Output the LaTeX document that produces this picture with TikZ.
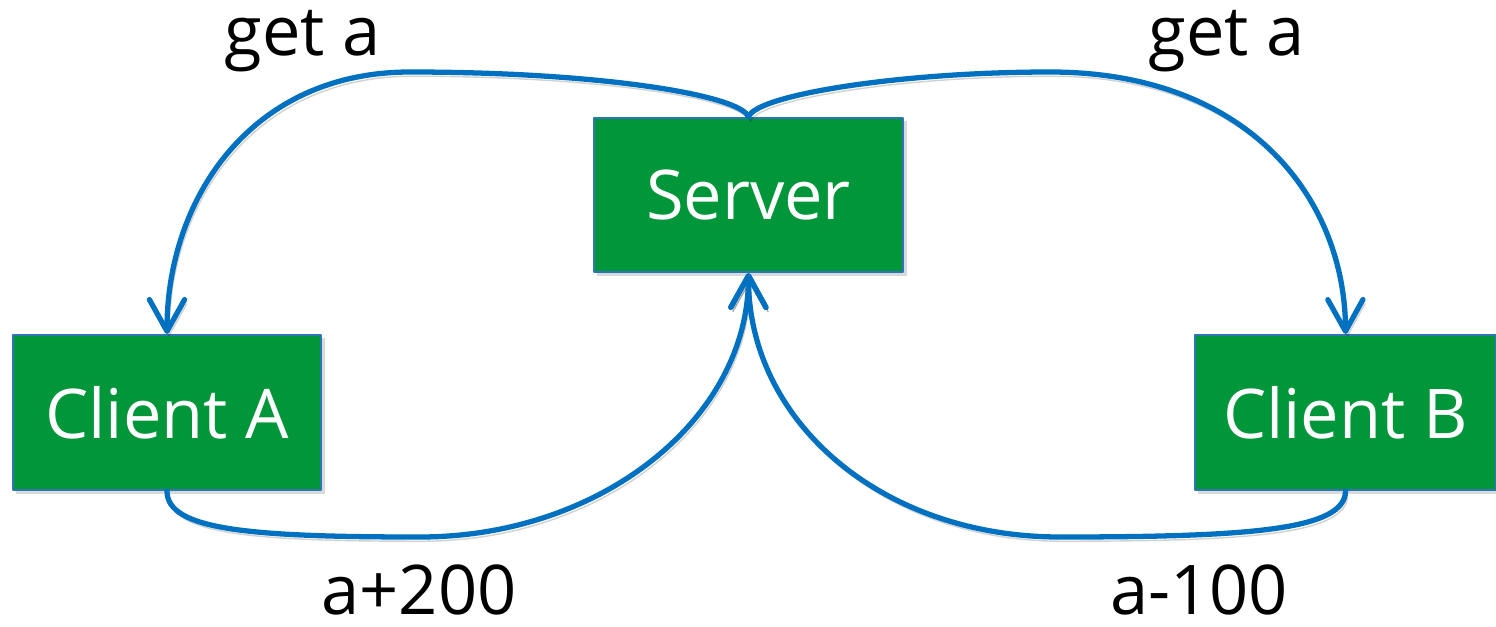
\documentclass[tikz,border=0pt]{standalone}
\usepackage{fontspec}
\setmainfont{Open Sans}
\usetikzlibrary{arrows.meta,shadows}
\definecolor{boxgreen}{RGB}{0,150,57}
\definecolor{wireblue}{RGB}{0,112,192}
\definecolor{edgeblue}{RGB}{46,117,182}
\begin{document}
\begin{tikzpicture}[x=0.01cm,y=-0.01cm,line join=round,line cap=round,font=\fontsize{19.5}{23}\selectfont,
	box/.style={draw=edgeblue,line width=0.6pt,fill=boxgreen,text=white,inner sep=0pt,
		drop shadow={opacity=0.3,shadow xshift=1pt,shadow yshift=-1pt}},
	wire/.style={draw=wireblue,line width=1.5pt,-{Straight Barb[length=9pt,width=10pt,round]},
		preaction={draw=black,opacity=0.18,transform canvas={xshift=0.6pt,yshift=-1.2pt}}}]
	\useasboundingbox (0,0) rectangle (1496,627);
	% boxes
	\node[box,minimum width=3.09cm,minimum height=1.54cm] (S) at (748.5,195) {Server};
	\node[box,minimum width=3.08cm,minimum height=1.55cm] (A) at (167,412.5) {Client A};
	\node[box,minimum width=3.01cm,minimum height=1.55cm] (B) at (1345.5,412.5) {Client B};
	% labels
	\foreach \n/\t/\x/\y in {getA/get a/303/55,getB/get a/1227/55,addA/a+200/419/614,subB/a-100/1199/614}
		\node[anchor=base] (\n) at (\x,\y) {\t};
	% requests
	\draw[wire] (S.north) .. controls (740,95) and (600,72) .. (410,72)
		.. controls (250,72) and (167,200) .. (A.north);
	\draw[wire] (S.north) .. controls (756,95) and (900,72) .. (1050,72)
		.. controls (1250,72) and (1345,200) .. (B.north);
	% writes
	\draw[wire] (A.south) .. controls (167,530) and (250,537) .. (420,537)
		.. controls (600,537) and (748,420) .. (S.south);
	\draw[wire] (B.south) .. controls (1345,530) and (1250,537) .. (1060,537)
		.. controls (880,537) and (748,420) .. (S.south);
\end{tikzpicture}
\end{document}
